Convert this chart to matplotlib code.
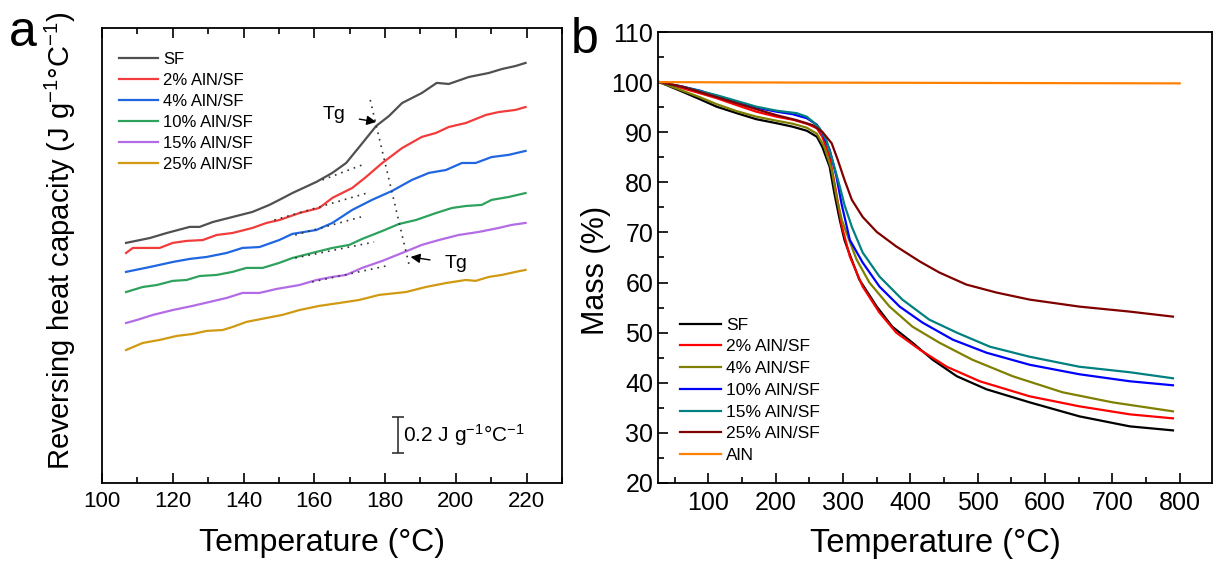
import matplotlib
matplotlib.use("Agg")
import matplotlib.pyplot as plt
from matplotlib.ticker import MultipleLocator

plt.rcParams['font.family'] = ['Liberation Sans', 'DejaVu Sans']
plt.rcParams['mathtext.fontset'] = 'custom'
plt.rcParams['mathtext.rm'] = 'Liberation Sans'
plt.rcParams['mathtext.it'] = 'Liberation Sans:italic'
plt.rcParams['mathtext.default'] = 'regular'

# ---------------- Panel a: reversing heat capacity (offset curves, J g-1 C-1) ----------------
labels_a = ["SF", "2% AlN/SF", "4% AlN/SF", "10% AlN/SF", "15% AlN/SF", "25% AlN/SF"]
colors_a = ["#505050", "#F23B3B", "#1F66E0", "#2EA25C", "#B36BE6", "#D09A12"]

T_sf = [106.8, 113.5, 118.3, 124.8, 127.6, 131.3, 136.9, 142.5, 147.3, 150.1, 153.8, 160.6, 165.1,
        169.0, 172.7, 177.5, 181.1, 184.8, 190.4, 194.6, 198.0, 203.7, 209.3, 213.0, 216.9, 219.7]
cp_sf = [1.367, 1.394, 1.422, 1.456, 1.456, 1.483, 1.511, 1.539, 1.578, 1.606, 1.644, 1.706, 1.756,
         1.811, 1.900, 2.017, 2.072, 2.144, 2.200, 2.256, 2.250, 2.289, 2.311, 2.333, 2.350, 2.367]

T_2 = [106.8, 108.7, 113.5, 116.3, 120.0, 123.9, 128.5, 132.4, 136.9, 142.5, 146.5, 150.1, 155.8, 161.4,
       165.1, 170.7, 174.6, 179.2, 184.8, 190.4, 194.4, 198.0, 202.8, 208.5, 212.1, 216.9, 219.7]
cp_2 = [1.311, 1.339, 1.339, 1.339, 1.367, 1.378, 1.383, 1.411, 1.422, 1.450, 1.478, 1.494, 1.533, 1.561,
        1.617, 1.672, 1.733, 1.811, 1.894, 1.956, 1.978, 2.011, 2.033, 2.078, 2.094, 2.106, 2.122]

T_4 = [106.8, 113.5, 120.0, 124.8, 129.6, 135.2, 139.7, 144.5, 150.1, 153.8, 160.6, 165.1, 170.7,
       176.3, 182.0, 187.6, 192.4, 197.2, 201.7, 205.6, 210.1, 214.9, 219.7]
cp_4 = [1.206, 1.233, 1.261, 1.278, 1.289, 1.311, 1.339, 1.344, 1.383, 1.417, 1.439, 1.478, 1.550,
        1.606, 1.656, 1.717, 1.756, 1.772, 1.811, 1.811, 1.844, 1.856, 1.878]

T_10 = [106.8, 111.5, 115.5, 120.0, 123.9, 127.6, 132.4, 136.9, 140.8, 145.4, 150.1, 153.8, 160.6,
        165.1, 169.9, 173.5, 179.2, 183.9, 188.7, 194.4, 198.9, 202.8, 207.3, 210.1, 214.9, 219.7]
cp_10 = [1.094, 1.122, 1.133, 1.156, 1.161, 1.183, 1.189, 1.206, 1.228, 1.228, 1.256, 1.283, 1.317,
         1.339, 1.356, 1.389, 1.433, 1.472, 1.494, 1.533, 1.561, 1.572, 1.578, 1.606, 1.622, 1.644]

T_15 = [106.8, 109.9, 114.4, 120.0, 125.6, 130.4, 135.2, 139.7, 144.5, 149.3, 155.8, 160.6, 165.1,
        169.0, 173.5, 179.2, 184.8, 190.4, 195.2, 200.8, 206.5, 212.1, 215.8, 219.7]
cp_15 = [0.922, 0.939, 0.967, 0.994, 1.017, 1.039, 1.061, 1.089, 1.089, 1.111, 1.133, 1.161, 1.178,
         1.189, 1.228, 1.267, 1.311, 1.356, 1.383, 1.411, 1.428, 1.450, 1.467, 1.478]

T_25 = [106.8, 111.5, 116.3, 121.1, 125.6, 129.6, 134.1, 136.9, 140.8, 146.5, 151.0, 155.8, 161.4,
        167.0, 172.7, 178.3, 185.9, 191.5, 197.2, 202.8, 205.6, 209.3, 213.0, 216.9, 219.7]
cp_25 = [0.772, 0.811, 0.828, 0.850, 0.861, 0.878, 0.883, 0.900, 0.928, 0.950, 0.967, 0.994, 1.017,
         1.033, 1.050, 1.078, 1.094, 1.122, 1.144, 1.161, 1.156, 1.178, 1.189, 1.206, 1.217]

# baseline extrapolation (dotted) segments: (T0, T1, cp0, cp1)
tan_T0 = [162.3, 148.7, 154.6, 154.6, 159.4]
tan_T1 = [173.5, 174.9, 173.2, 176.9, 180.3]
tan_c0 = [1.717, 1.494, 1.411, 1.283, 1.150]
tan_c1 = [1.800, 1.644, 1.511, 1.372, 1.239]
tg_line_T = [175.8, 187.0]
tg_line_c = [2.161, 1.228]
scale_bar = 0.2

# ---------------- Panel b: TGA ----------------
labels_b = ["SF", "2% AlN/SF", "4% AlN/SF", "10% AlN/SF", "15% AlN/SF", "25% AlN/SF", "AlN"]
colors_b = ["#000000", "#FF0000", "#808000", "#0000FF", "#008080", "#800000", "#FF8000"]

Tb_sf = [27, 61, 87, 112, 142, 171, 201, 225, 246, 261, 269, 280, 287, 295, 302, 307, 324, 350, 373,
         403, 433, 469, 513, 577, 651, 726, 790]
m_sf = [100, 98.1, 96.6, 95.1, 93.8, 92.6, 91.8, 91.1, 90.3, 89.1, 87.1, 83.1, 77.8, 72.5, 68.5, 66.6,
        60.6, 55.2, 51.2, 48.0, 44.6, 41.3, 38.7, 36.1, 33.3, 31.3, 30.5]

Tb_2 = [27, 61, 87, 112, 142, 171, 201, 225, 246, 261, 269, 280, 289, 298, 310, 329, 354, 379, 414,
        454, 503, 577, 651, 726, 790]
m_2 = [100, 98.8, 97.8, 96.8, 95.4, 94.1, 93.1, 92.5, 91.7, 90.8, 89.1, 85.1, 78.5, 71.3, 65.2, 59.2,
       54.0, 50.0, 46.6, 43.2, 40.3, 37.3, 35.3, 33.7, 32.9]

Tb_4 = [27, 61, 87, 112, 142, 171, 201, 225, 246, 261, 272, 283, 290, 298, 305, 320, 339, 369, 403,
        443, 492, 552, 626, 700, 790]
m_4 = [100, 98.3, 97.0, 95.6, 94.2, 93.1, 92.3, 91.7, 90.9, 89.7, 87.1, 82.5, 77.2, 72.5, 69.9, 64.6,
       60.0, 55.2, 51.2, 48.0, 44.6, 41.3, 38.1, 36.1, 34.3]

Tb_10 = [27, 61, 87, 112, 142, 171, 201, 225, 246, 261, 269, 280, 290, 298, 310, 329, 354, 384, 418,
         463, 513, 577, 651, 726, 790]
m_10 = [100, 99.1, 98.3, 97.2, 96.1, 94.9, 94.1, 93.6, 92.8, 91.5, 89.8, 86.5, 81.2, 75.5, 68.5, 64.0,
        59.2, 55.2, 52.0, 48.6, 46.0, 43.6, 41.7, 40.3, 39.5]

Tb_15 = [27, 61, 112, 171, 201, 231, 246, 255, 265, 275, 284, 295, 302, 313, 329, 354, 388, 428, 469,
         518, 577, 651, 726, 790]
m_15 = [100, 99.1, 97.4, 95.1, 94.3, 93.8, 93.1, 92.1, 90.8, 88.5, 84.5, 79.2, 75.5, 71.1, 66.0, 61.2,
        56.6, 52.6, 50.0, 47.2, 45.2, 43.2, 42.1, 40.9]

Tb_25 = [27, 61, 112, 171, 201, 231, 255, 269, 283, 292, 302, 313, 329, 350, 379, 414, 443, 483, 528,
         577, 651, 726, 790]
m_25 = [100, 99.1, 97.0, 94.6, 93.4, 92.4, 91.4, 90.1, 87.8, 84.5, 80.5, 76.5, 73.1, 70.1, 67.2, 64.2,
        62.0, 59.6, 58.0, 56.6, 55.2, 54.2, 53.2]

Tb_aln = [27, 200, 400, 600, 800]
m_aln = [100.0, 99.92, 99.86, 99.8, 99.75]

# ---------------- figure ----------------
W, H = 1223, 565
fig = plt.figure(figsize=(W / 100, H / 100), dpi=100)
axa = fig.add_axes([102 / W, 82 / H, 460 / W, 455 / H])
axb = fig.add_axes([658 / W, 82 / H, 554 / W, 451 / H])

# panel a
series_a = [(T_sf, cp_sf), (T_2, cp_2), (T_4, cp_4), (T_10, cp_10), (T_15, cp_15), (T_25, cp_25)]
for (t, c), lab, col in zip(series_a, labels_a, colors_a):
    axa.plot(t, c, color=col, lw=1.6, label=lab)
for t0, t1, c0, c1 in zip(tan_T0, tan_T1, tan_c0, tan_c1):
    axa.plot([t0, t1], [c0, c1], color='#333333', lw=1.2, ls=(0, (1, 3)))
axa.plot(tg_line_T, tg_line_c, color='#333333', lw=1.2, ls=(0, (1, 3)))

axa.annotate("Tg", xy=(177.5, 2.039), xytext=(165.6, 2.078), fontsize=14, ha='center', va='center',
             arrowprops=dict(arrowstyle='-|>', color='black', lw=1.0, shrinkA=8, shrinkB=0,
                             mutation_scale=14))
axa.annotate("Tg", xy=(187.2, 1.289), xytext=(200.2, 1.25), fontsize=14, ha='center', va='center',
             arrowprops=dict(arrowstyle='-|>', color='black', lw=1.0, shrinkA=9, shrinkB=0,
                             mutation_scale=14))

axa.errorbar([183.7], [0.2 + scale_bar / 2], yerr=[scale_bar / 2], color='#333333', lw=1.2,
             capsize=4, capthick=1.2)
axa.text(185.0, 0.3, "0.2 J g$^{-1}$°C$^{-1}$", fontsize=15, va='center', ha='left')

axa.set_xlim(100, 230)
axa.set_ylim(0.033, 2.561)
axa.set_yticks([])
axa.xaxis.set_major_locator(MultipleLocator(20))
axa.xaxis.set_minor_locator(MultipleLocator(10))
axa.tick_params(axis='x', which='both', direction='in', top=True, labelsize=16, pad=6)
axa.tick_params(axis='x', which='major', length=7, width=1.2)
axa.tick_params(axis='x', which='minor', length=4, width=1.2)
axa.set_xlabel("Temperature (°C)", fontsize=23)
axa.xaxis.set_label_coords(0.478, -0.10)
axa.set_ylabel("Reversing heat capacity (J g$^{-1}$°C$^{-1}$)", fontsize=21)
axa.yaxis.set_label_coords(-0.052, 0.532)
for s in axa.spines.values():
    s.set_linewidth(1.3)
axa.legend(loc='upper left', bbox_to_anchor=(0.037, 0.947), frameon=False, fontsize=12,
           handlelength=2.35, handletextpad=0.3, labelspacing=0.36, borderpad=0, borderaxespad=0)

# panel b
series_b = [(Tb_sf, m_sf), (Tb_2, m_2), (Tb_4, m_4), (Tb_10, m_10), (Tb_15, m_15), (Tb_25, m_25),
            (Tb_aln, m_aln)]
for (t, m), lab, col in zip(series_b, labels_b, colors_b):
    axb.plot(t, m, color=col, lw=1.6, label=lab)
axb.set_xlim(25, 848)
axb.set_ylim(20, 110)
axb.xaxis.set_major_locator(MultipleLocator(100))
axb.xaxis.set_minor_locator(MultipleLocator(50))
axb.yaxis.set_major_locator(MultipleLocator(10))
axb.yaxis.set_minor_locator(MultipleLocator(5))
axb.tick_params(which='both', direction='in', labelsize=18)
axb.tick_params(which='major', length=7, width=1.2)
axb.tick_params(which='minor', length=4, width=1.2)
axb.tick_params(axis='x', pad=6)
axb.set_xlabel("Temperature (°C)", fontsize=23.5)
axb.xaxis.set_label_coords(0.5, -0.10)
axb.set_ylabel("Mass (%)", fontsize=22)
axb.yaxis.set_label_coords(-0.085, 0.472)
for s in axb.spines.values():
    s.set_linewidth(1.3)
axb.legend(loc='upper left', bbox_to_anchor=(0.040, 0.367), frameon=False, fontsize=12.5,
           handlelength=2.35, handletextpad=0.3, labelspacing=0.38, borderpad=0, borderaxespad=0)

fig.text(23 / W, 1 - 33 / H, "a", fontsize=36, ha='center', va='center')
fig.text(585 / W, 1 - 40 / H, "b", fontsize=36, ha='center', va='center')

fig.savefig("out.png", dpi=100)
